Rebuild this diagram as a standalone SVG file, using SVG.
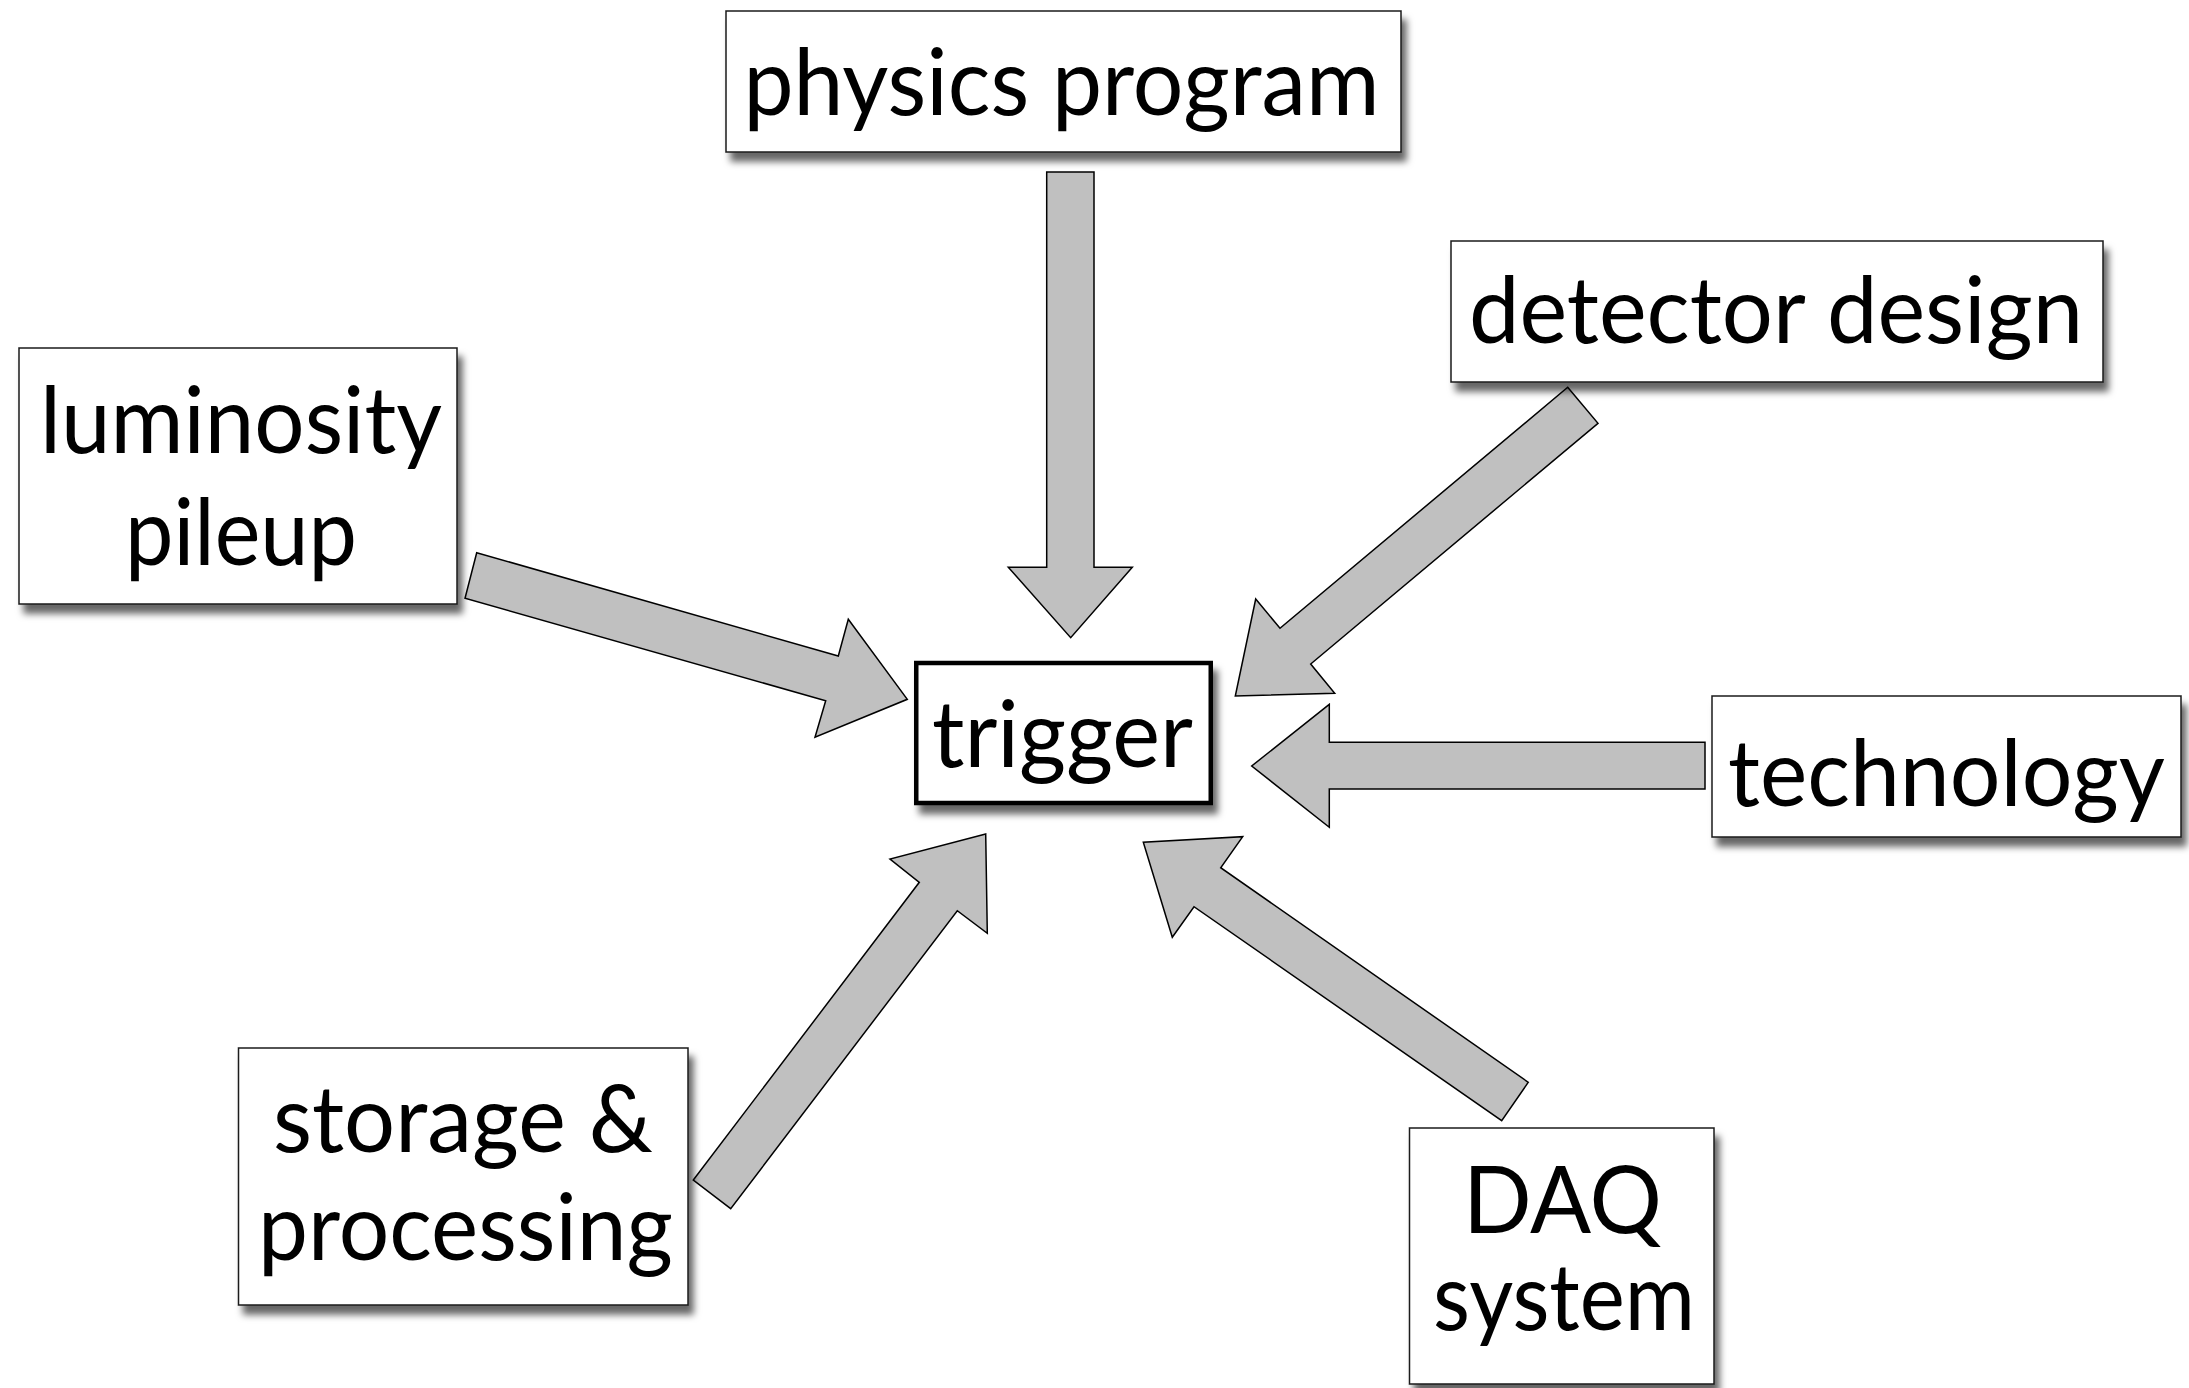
<svg xmlns="http://www.w3.org/2000/svg" width="2189" height="1388" viewBox="0 0 2189 1388">
  <defs>
    <filter id="shadow" x="-10%" y="-10%" width="125%" height="130%">
      <feDropShadow dx="5" dy="9" stdDeviation="3.5" flood-color="#000" flood-opacity="0.6"/>
    </filter>
  </defs>
  <style>
    .box { fill: #fff; stroke: #1a1a1a; stroke-width: 1.5; filter: url(#shadow); }
    .hub { fill: #fff; stroke: #000; stroke-width: 4.5; filter: url(#shadow); }
    .lbl { font-family: Lato, "Open Sans", "Liberation Sans", sans-serif; font-size: 94px; fill: #000; text-anchor: middle; }
    .arrow { fill: #c0c0c0; stroke: #000; stroke-width: 1.5; stroke-linejoin: miter; }
  </style>
  <rect width="2189" height="1388" fill="#fff"/>

  <!-- block arrows pointing into the trigger box -->
  <g id="connectors">
    <polygon class="arrow" points="1046.7,172 1094,172 1094,567.3 1132.3,567.3 1070.7,637.7 1008.3,567.3 1046.7,567.3"/>
    <polygon class="arrow" points="476.7,552.7 838.3,656 848.3,619.3 907.3,699.3 815,737.3 825.7,700.7 465,598.3"/>
    <polygon class="arrow" points="1567.7,387.3 1598,423.3 1310.7,664 1334.7,693.3 1235.3,696 1255.7,599 1280,628.3"/>
    <polygon class="arrow" points="1705,742.3 1329.3,742.3 1329.3,704.3 1251.7,766 1329.3,827.3 1329.3,789 1705,789"/>
    <polygon class="arrow" points="693.3,1180 919.3,882.3 890,859 985.7,834 987.3,933.3 957.3,910.7 730.7,1208.7"/>
    <polygon class="arrow" points="1528.3,1082.3 1220.7,867.7 1242.7,836.7 1143.3,842.3 1172.3,937.3 1194,906.7 1501.7,1120.7"/>
  </g>

  <g id="physics-program">
    <rect class="box" x="726" y="11" width="675" height="141"/>
    <text class="lbl" x="1061.5" y="115" textLength="636" lengthAdjust="spacingAndGlyphs">physics program</text>
  </g>

  <g id="luminosity-pileup">
    <rect class="box" x="19" y="348" width="438" height="256"/>
    <text class="lbl" x="241" y="453" textLength="402" lengthAdjust="spacingAndGlyphs">luminosity</text>
    <text class="lbl" x="241" y="565" textLength="232" lengthAdjust="spacingAndGlyphs">pileup</text>
  </g>

  <g id="detector-design">
    <rect class="box" x="1451" y="241" width="652" height="141"/>
    <text class="lbl" x="1776" y="343" textLength="614" lengthAdjust="spacingAndGlyphs">detector design</text>
  </g>

  <g id="technology">
    <rect class="box" x="1712" y="696" width="469" height="141"/>
    <text class="lbl" x="1946.5" y="806" textLength="437" lengthAdjust="spacingAndGlyphs">technology</text>
  </g>

  <g id="storage-processing">
    <rect class="box" x="238.5" y="1048" width="449.5" height="257"/>
    <text class="lbl" x="463" y="1152" textLength="380" lengthAdjust="spacingAndGlyphs">storage &amp;</text>
    <text class="lbl" x="465.5" y="1260" textLength="415" lengthAdjust="spacingAndGlyphs">processing</text>
  </g>

  <g id="daq-system">
    <rect class="box" x="1409.5" y="1128" width="304.5" height="256"/>
    <text class="lbl" x="1562.5" y="1233" textLength="199" lengthAdjust="spacingAndGlyphs">DAQ</text>
    <text class="lbl" x="1564" y="1330" textLength="262" lengthAdjust="spacingAndGlyphs">system</text>
  </g>

  <g id="trigger">
    <rect class="hub" x="916.25" y="663" width="294.5" height="140"/>
    <text class="lbl" x="1062.5" y="767" textLength="261" lengthAdjust="spacingAndGlyphs">trigger</text>
  </g>
</svg>
